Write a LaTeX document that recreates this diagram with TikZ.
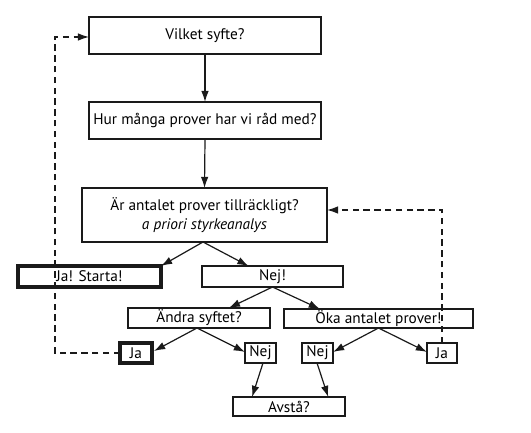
\documentclass[tikz,border=0pt]{standalone}
\usepackage{fontspec}
\setmainfont{PT Sans}
\usetikzlibrary{arrows.meta,calc}
\definecolor{c1a1a1a}{RGB}{26,26,26}
\def \globalscale {1.000000}

\begin{document}
\begin{tikzpicture}[y=-0.25mm, x=0.25mm, yscale=\globalscale,xscale=\globalscale, every node/.append style={scale=\globalscale}, inner sep=0pt, outer sep=0pt,
  box/.style={draw=c1a1a1a,line width=0.3mm,fill=white,align=center,font=\fontsize{10.9}{13.3}\selectfont},
  boldbox/.style={box,line width=0.8mm},
  flow/.style={draw=c1a1a1a,line width=0.3mm,-{Latex[length=2.8mm,width=1.9mm]}},
  back/.style={flow,dash pattern=on 1.6mm off 1.1mm}]
  \useasboundingbox (0, 0) rectangle (531, 433);



  \node[box,minimum width=232*0.25mm,minimum height=37*0.25mm] (syfte) at (205, 35.5){Vilket syfte?};



  \node[box,minimum width=232*0.25mm,minimum height=37*0.25mm] (rad) at (205, 120.5){Hur många prover har vi råd med?};



  \node[box,minimum width=245*0.25mm,minimum height=54*0.25mm] (analys) at (204.5, 215){Är antalet prover tillräckligt?\\\textit{a priori styrkeanalys}};



  \node[boldbox,minimum width=143*0.25mm,minimum height=21*0.25mm] (starta) at (89.5, 276.5){Ja! Starta!};



  \node[box,minimum width=141*0.25mm,minimum height=21*0.25mm] (nej) at (272.5, 276.5){Nej!};



  \node[box,minimum width=142*0.25mm,minimum height=20*0.25mm] (andra) at (199, 318){Ändra syftet?};



  \node[box,minimum width=189*0.25mm,minimum height=19*0.25mm] (oka) at (378.5, 318.5){Öka antalet prover!};



  \node[boldbox,minimum width=32*0.25mm,minimum height=20*0.25mm] (andraja) at (136, 353){Ja};



  \node[box,minimum width=31*0.25mm,minimum height=20*0.25mm] (andranej) at (260.5, 353){Nej};



  \node[box,minimum width=31*0.25mm,minimum height=20*0.25mm] (okanej) at (317.5, 353){Nej};



  \node[box,minimum width=30*0.25mm,minimum height=20*0.25mm] (okaja) at (442, 353){Ja};



  \node[box,minimum width=112*0.25mm,minimum height=19*0.25mm] (avsta) at (289, 406.5){Avstå?};



  \path[flow] (syfte.south) -- (rad.north);



  \path[flow] (rad.south) -- (analys.north);



  \path[flow] ($(analys.south)+(-1.5,0)$) -- (starta.north east);



  \path[flow] ($(analys.south)+(-1.5,0)$) -- ($(nej.north west)!0.33!(nej.north east)$);



  \path[flow] (nej.south) -- ($(andra.north west)!0.71!(andra.north east)$);



  \path[flow] (nej.south) -- ($(oka.north west)!0.19!(oka.north east)$);



  \path[flow] ($(andra.south)+(-2,0)$) -- ($(andraja.east)+(2,-2)$);



  \path[flow] ($(andra.south)+(-2,0)$) -- ($(andranej.west)+(0,-1)$);



  \path[flow] (oka.south) -- ($(okanej.east)+(0,-1)$);



  \path[flow] (oka.south) -- ($(okaja.west)+(0,-1)$);



  \path[flow] ($(andranej.south)+(2.5,0)$) -- ($(avsta.north west)!0.17!(avsta.north east)$);



  \path[flow] ($(okanej.south)+(-0.5,0)$) -- ($(avsta.north west)!0.85!(avsta.north east)$);



  \path[back] (andraja.west) -- ++(-65, 0) |- ($(syfte.west)+(0,1.5)$);



  \path[back] (okaja.north) |- ($(analys.east)+(0,-5)$);




\end{tikzpicture}
\end{document}
